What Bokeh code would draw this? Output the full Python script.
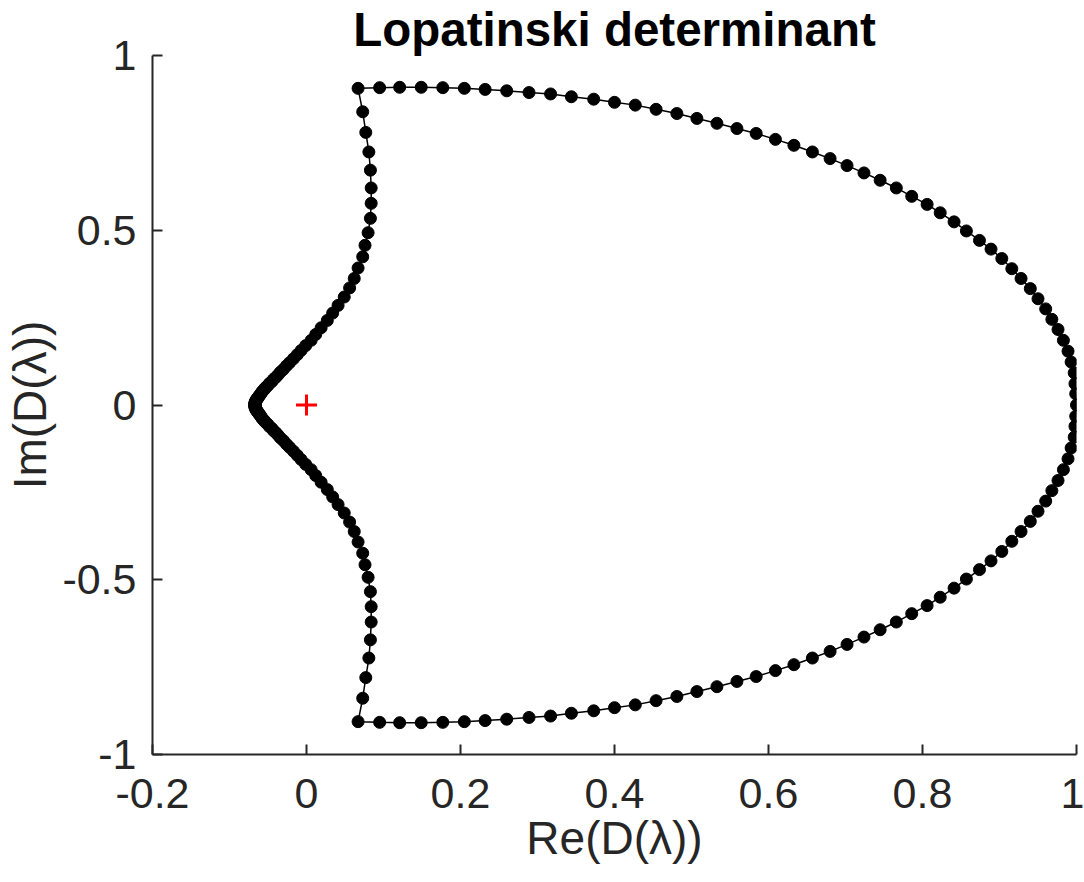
from bokeh.embed import file_html
from bokeh.models import FixedTicker, Range1d
from bokeh.plotting import figure
from bokeh.resources import INLINE

# Upper branch of the Lopatinski determinant D(lambda), from the real axis
# at Re = 1 around to the cusp near Re = -0.07.
re_upper = [
    1.000, 0.999, 0.998, 0.997, 0.993, 0.989, 0.983, 0.976, 0.968, 0.960,
    0.950, 0.940, 0.928, 0.916, 0.903, 0.889, 0.874, 0.857, 0.841, 0.823,
    0.806, 0.786, 0.766, 0.745, 0.724, 0.702, 0.680, 0.657, 0.633, 0.609,
    0.584, 0.559, 0.533, 0.507, 0.481, 0.454, 0.427, 0.400, 0.373, 0.344,
    0.317, 0.289, 0.260, 0.232, 0.205, 0.177, 0.149, 0.121, 0.095, 0.067,
    0.073, 0.077, 0.081, 0.083, 0.084, 0.084, 0.083, 0.080, 0.076, 0.073,
    0.067, 0.062, 0.056, 0.049, 0.041, 0.034, 0.027, 0.019, 0.012, 0.006,
    -0.001, -0.007, -0.012, -0.017, -0.022, -0.026, -0.030, -0.034, -0.037, -0.040,
    -0.043, -0.045, -0.048, -0.050, -0.052, -0.054, -0.055, -0.057, -0.058, -0.059,
    -0.060, -0.061, -0.062, -0.063, -0.063, -0.064, -0.065, -0.065, -0.066, -0.066,
    -0.066, -0.067, -0.067, -0.067, -0.067,
]
im_upper = [
    0.000, 0.032, 0.061, 0.092, 0.123, 0.154, 0.185, 0.216, 0.245, 0.275,
    0.304, 0.333, 0.362, 0.390, 0.419, 0.446, 0.471, 0.498, 0.524, 0.550,
    0.574, 0.597, 0.621, 0.643, 0.664, 0.685, 0.705, 0.724, 0.743, 0.760,
    0.777, 0.791, 0.806, 0.820, 0.834, 0.846, 0.858, 0.866, 0.875, 0.882,
    0.890, 0.894, 0.899, 0.903, 0.906, 0.908, 0.909, 0.909, 0.908, 0.906,
    0.839, 0.780, 0.724, 0.672, 0.621, 0.577, 0.534, 0.493, 0.457, 0.424,
    0.392, 0.362, 0.335, 0.309, 0.285, 0.263, 0.242, 0.221, 0.202, 0.185,
    0.170, 0.156, 0.144, 0.132, 0.121, 0.112, 0.102, 0.094, 0.086, 0.079,
    0.073, 0.067, 0.062, 0.056, 0.052, 0.048, 0.044, 0.040, 0.037, 0.033,
    0.030, 0.027, 0.025, 0.022, 0.020, 0.018, 0.016, 0.014, 0.012, 0.010,
    0.008, 0.006, 0.005, 0.003, 0.001,
]

# D(conj(lambda)) = conj(D(lambda)): the lower branch is the mirror image.
re_curve = re_upper[::-1] + re_upper[1:]
im_curve = im_upper[::-1] + [-v for v in im_upper[1:]]

# Origin marker
origin_re = [0.0]
origin_im = [0.0]

x_ticks = [-0.2, 0, 0.2, 0.4, 0.6, 0.8, 1]
x_tick_labels = ["-0.2", "0", "0.2", "0.4", "0.6", "0.8", "1"]
y_ticks = [-1, -0.5, 0, 0.5, 1]
y_tick_labels = ["-1", "-0.5", "0", "0.5", "1"]

title_text = "Lopatinski determinant"
x_label_text = "Re(D(\u03bb))"
y_label_text = "Im(D(\u03bb))"

FONT = "Liberation Sans"
AXIS_COLOR = "#262626"

p = figure(
    width=1084,
    height=882,
    x_range=Range1d(-0.2, 1),
    y_range=Range1d(-1, 1),
    output_backend="svg",
    toolbar_location=None,
    min_border_left=152,
    min_border_right=8,
    min_border_top=55,
    min_border_bottom=128,
    background_fill_color="white",
    border_fill_color="white",
    title=title_text,
)
p.outline_line_color = None
p.grid.visible = False

p.title.align = "center"
p.title.text_font = FONT
p.title.text_font_size = "47.5px"
p.title.text_font_style = "bold"
p.title.text_color = "black"
p.title.standoff = 0
p.title.offset = 0

p.xaxis.ticker = FixedTicker(ticks=x_ticks)
p.yaxis.ticker = FixedTicker(ticks=y_ticks)
p.xaxis.major_label_overrides = dict(zip(x_ticks, x_tick_labels))
p.yaxis.major_label_overrides = dict(zip(y_ticks, y_tick_labels))
p.xaxis.axis_label = x_label_text
p.yaxis.axis_label = y_label_text

for ax in (p.xaxis, p.yaxis):
    ax.axis_line_color = AXIS_COLOR
    ax.axis_line_width = 2
    ax.major_tick_line_color = AXIS_COLOR
    ax.major_tick_line_width = 2
    ax.major_tick_in = 10
    ax.major_tick_out = 0
    ax.minor_tick_line_color = None
    ax.major_label_text_font = FONT
    ax.major_label_text_font_size = "43px"
    ax.major_label_text_color = AXIS_COLOR
    ax.axis_label_text_font = FONT
    ax.axis_label_text_font_size = "46px"
    ax.axis_label_text_font_style = "normal"
    ax.axis_label_text_color = AXIS_COLOR
p.xaxis.axis_label_standoff = 1
p.yaxis.axis_label_standoff = 3
p.xaxis.major_label_standoff = 24
p.yaxis.major_label_standoff = 16

# Connected curve with markers at every sample
p.line(re_curve, im_curve, line_color="black", line_width=1.5)
p.scatter(re_curve, im_curve, size=12, fill_color="black", line_color="black")

p.scatter(origin_re, origin_im, marker="cross", size=21,
          line_color="#ff0000", line_width=3)

open("out.html", "w").write(file_html(p, INLINE))
